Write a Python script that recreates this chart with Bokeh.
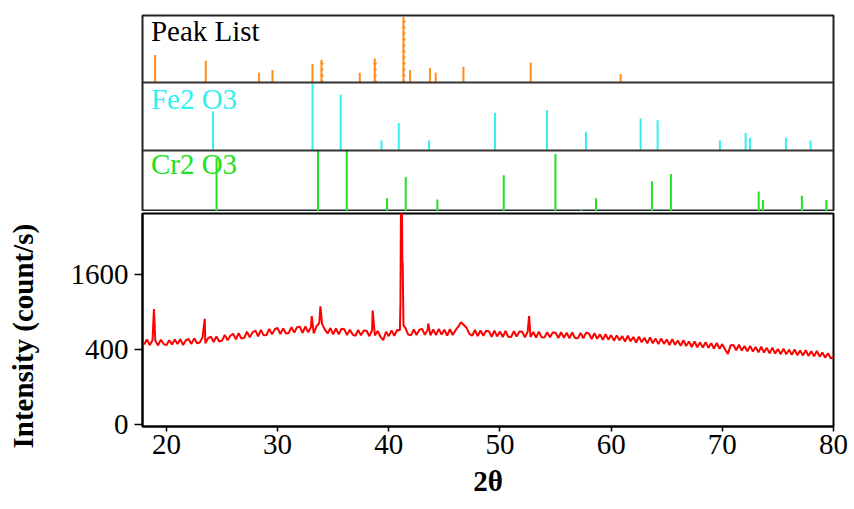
import numpy as np
from bokeh.plotting import figure
from bokeh.layouts import column
from bokeh.models import Range1d, Label, FixedTicker, Span, Title
from bokeh.embed import file_html
from bokeh.resources import INLINE

# ---------------- data ----------------
two_theta = [
    18.0, 18.25, 18.5, 18.75, 19.0, 19.25, 19.5, 19.75,
    20.0, 20.25, 20.5, 20.75, 21.0, 21.25, 21.5, 21.75,
    22.0, 22.25, 22.5, 22.75, 23.0, 23.25, 23.5, 23.75,
    24.0, 24.25, 24.5, 24.75, 25.0, 25.25, 25.5, 25.75,
    26.0, 26.25, 26.5, 26.75, 27.0, 27.25, 27.5, 27.75,
    28.0, 28.25, 28.5, 28.75, 29.0, 29.25, 29.5, 29.75,
    30.0, 30.25, 30.5, 30.75, 31.0, 31.25, 31.5, 31.75,
    32.0, 32.25, 32.5, 32.75, 33.0, 33.25, 33.5, 33.75,
    34.0, 34.25, 34.5, 34.75, 35.0, 35.25, 35.5, 35.75,
    36.0, 36.25, 36.5, 36.75, 37.0, 37.25, 37.5, 37.75,
    38.0, 38.25, 38.5, 38.75, 39.0, 39.25, 39.5, 39.75,
    40.0, 40.25, 40.5, 40.75, 41.0, 41.25, 41.5, 41.75,
    42.0, 42.25, 42.5, 42.75, 43.0, 43.25, 43.5, 43.75,
    44.0, 44.25, 44.5, 44.75, 45.0, 45.25, 45.5, 45.75,
    46.0, 46.25, 46.5, 46.75, 47.0, 47.25, 47.5, 47.75,
    48.0, 48.25, 48.5, 48.75, 49.0, 49.25, 49.5, 49.75,
    50.0, 50.25, 50.5, 50.75, 51.0, 51.25, 51.5, 51.75,
    52.0, 52.25, 52.5, 52.75, 53.0, 53.25, 53.5, 53.75,
    54.0, 54.25, 54.5, 54.75, 55.0, 55.25, 55.5, 55.75,
    56.0, 56.25, 56.5, 56.75, 57.0, 57.25, 57.5, 57.75,
    58.0, 58.25, 58.5, 58.75, 59.0, 59.25, 59.5, 59.75,
    60.0, 60.25, 60.5, 60.75, 61.0, 61.25, 61.5, 61.75,
    62.0, 62.25, 62.5, 62.75, 63.0, 63.25, 63.5, 63.75,
    64.0, 64.25, 64.5, 64.75, 65.0, 65.25, 65.5, 65.75,
    66.0, 66.25, 66.5, 66.75, 67.0, 67.25, 67.5, 67.75,
    68.0, 68.25, 68.5, 68.75, 69.0, 69.25, 69.5, 69.75,
    70.0, 70.25, 70.5, 70.75, 71.0, 71.25, 71.5, 71.75,
    72.0, 72.25, 72.5, 72.75, 73.0, 73.25, 73.5, 73.75,
    74.0, 74.25, 74.5, 74.75, 75.0, 75.25, 75.5, 75.75,
    76.0, 76.25, 76.5, 76.75, 77.0, 77.25, 77.5, 77.75,
    78.0, 78.25, 78.5, 78.75, 79.0, 79.25, 79.5, 79.75,
    80.0,
]
counts = [
    455, 515, 448, 505, 500, 445, 512, 460,
    448, 505, 455, 515, 460, 518, 450, 505,
    520, 462, 528, 470, 478, 540, 470, 530,
    548, 485, 552, 490, 500, 570, 505, 560,
    585, 515, 592, 525, 535, 612, 540, 605,
    628, 552, 635, 565, 570, 650, 578, 645,
    662, 582, 658, 590, 595, 675, 600, 672,
    680, 598, 685, 605, 672, 590, 685, 735,
    720, 640, 590, 662, 578, 655, 580, 652,
    645, 568, 640, 575, 560, 635, 565, 630,
    625, 555, 632, 565, 622, 548, 505, 612,
    555, 628, 560, 635, 632, 1870, 660, 575,
    565, 642, 570, 640, 648, 572, 640, 565,
    642, 568, 650, 575, 638, 562, 645, 570,
    630, 680, 745, 705, 665, 585, 560, 635,
    555, 628, 560, 625, 620, 548, 625, 552,
    615, 545, 622, 548, 545, 618, 550, 615,
    612, 540, 615, 545, 608, 538, 612, 542,
    538, 605, 540, 602, 600, 532, 605, 535,
    598, 530, 602, 532, 528, 595, 530, 598,
    588, 520, 592, 522, 578, 510, 580, 512,
    568, 500, 565, 505, 555, 490, 560, 492,
    545, 478, 548, 480, 535, 468, 540, 470,
    525, 460, 528, 462, 515, 450, 518, 452,
    502, 440, 505, 438, 490, 428, 492, 425,
    480, 420, 482, 418, 470, 410, 472, 408,
    460, 400, 355, 448, 450, 392, 452, 390,
    438, 380, 440, 378, 428, 370, 430, 368,
    418, 360, 420, 358, 405, 352, 408, 350,
    398, 345, 400, 342, 390, 338, 392, 335,
    382, 330, 385, 328, 368, 318, 362, 312,
    325,
]
spike_theta = [18.88, 23.45, 33.07, 33.85, 38.55, 41.05, 41.10, 41.18, 41.22, 41.32, 43.55, 52.62]
spike_counts = [950, 795, 835, 995, 924, 1060, 3600, 3600, 1870, 700, 725, 835]

peak_list_theta = [18.98, 23.52, 28.29, 29.49, 33.07, 33.88, 37.31, 38.65, 41.22, 41.81,
                   43.60, 44.11, 46.59, 52.61, 60.67]
peak_list_height = [41.7, 33, 15, 19, 28, 34.5, 15, 36.5, 100, 19, 22, 15, 24, 30, 13]
peak_list_dashed_theta = [33.88, 38.65, 41.22]
peak_list_dashed_height = [34.5, 36.5, 100]

fe2o3_theta = [24.17, 33.07, 35.60, 39.25, 40.80, 43.51, 49.42, 54.07, 57.56, 62.46,
               63.98, 69.56, 71.86, 72.25, 75.47, 77.68]
fe2o3_height = [58, 100, 83, 15, 41, 15, 56, 60, 28, 47.5, 45, 15, 26, 19, 19, 15]

cr2o3_theta = [24.48, 33.57, 36.14, 39.75, 41.42, 44.26, 50.20, 54.83, 57.15, 58.46,
               63.47, 65.17, 73.03, 73.41, 76.90, 79.09]
cr2o3_height = [89, 100, 100, 22, 57, 20, 60, 95, 3, 22, 50, 62, 33, 19, 26, 19]

y_tick_counts = [0, 400, 1600]
x_ticks = [20, 30, 40, 50, 60, 70, 80]

# ---------------- styles ----------------
SERIF = "Liberation Serif"
ORANGE = "#FF8C1A"
CYAN = "#33F0F0"
GREEN = "#22E022"
RED = "#FF0000"

# ---------- stacked stick panels (one figure, three y ranges) ----------
# frame is 196 px tall; default y range is in frame pixels from the bottom
pt = figure(width=854, height=211, x_range=Range1d(17.85, 79.73),
            y_range=Range1d(0, 196), x_axis_type=None, y_axis_type=None,
            output_backend="svg", toolbar_location=None,
            min_border_left=142, min_border_right=21, min_border_top=15, min_border_bottom=0)
pt.grid.visible = False
pt.outline_line_color = "#222222"
pt.outline_line_width = 2
pt.extra_y_ranges = {
    "peak": Range1d(-129 / 0.657, (196 - 129) / 0.657),
    "fe": Range1d(-61 / 0.673, (196 - 61) / 0.673),
    "cr": Range1d(0, 196 / 0.604),
}

pt.segment(x0=peak_list_theta, y0=[0] * len(peak_list_theta),
           x1=peak_list_theta, y1=peak_list_height, line_color=ORANGE, line_width=2,
           y_range_name="peak")
pt.segment(x0=[t + 0.04 for t in peak_list_dashed_theta], y0=[0] * len(peak_list_dashed_theta),
           x1=[t + 0.04 for t in peak_list_dashed_theta], y1=peak_list_dashed_height,
           line_color=ORANGE, line_width=3, line_dash="2 4", y_range_name="peak")
pt.segment(x0=fe2o3_theta, y0=[0] * len(fe2o3_theta), x1=fe2o3_theta, y1=fe2o3_height,
           line_color=CYAN, line_width=2, y_range_name="fe")
pt.segment(x0=cr2o3_theta, y0=[0] * len(cr2o3_theta), x1=cr2o3_theta, y1=cr2o3_height,
           line_color=GREEN, line_width=2, y_range_name="cr")

pt.add_layout(Span(location=129, dimension="width", line_color="#333333", line_width=2))
pt.add_layout(Span(location=61, dimension="width", line_color="#333333", line_width=2))

pt.add_layout(Label(x=18.6, y=180.2, text="Peak List", text_font=SERIF,
                    text_font_size="29px", text_color="black", text_baseline="alphabetic"))
pt.add_layout(Label(x=18.6, y=112.2, text="Fe2 O3", text_font=SERIF,
                    text_font_size="29px", text_color=CYAN, text_baseline="alphabetic"))
pt.add_layout(Label(x=18.6, y=47.1, text="Cr2 O3", text_font=SERIF,
                    text_font_size="29px", text_color=GREEN, text_baseline="alphabetic"))

# ---------- main diffractogram (square-root intensity scale) ----------
all_theta = np.array(two_theta + spike_theta, dtype=float)
all_counts = np.array(counts + spike_counts, dtype=float)
order = np.argsort(all_theta, kind="stable")
xs = all_theta[order]
ys = np.sqrt(all_counts[order])

p4 = figure(width=854, height=298, x_range=Range1d(17.85, 80.0),
            y_range=Range1d(-0.53, 56.27), output_backend="svg", toolbar_location=None,
            min_border_left=142, min_border_right=18, min_border_top=2, min_border_bottom=83)
p4.grid.visible = False
p4.outline_line_color = "black"
p4.outline_line_width = 2
p4.line(xs, ys, line_color=RED, line_width=2)

p4.xaxis.ticker = FixedTicker(ticks=x_ticks)
ytick_pos = [float(np.sqrt(v)) for v in y_tick_counts]
p4.yaxis.ticker = FixedTicker(ticks=ytick_pos)
p4.yaxis.major_label_overrides = {int(round(pos)): str(v) for pos, v in zip(ytick_pos, y_tick_counts)}

for ax in (p4.xaxis[0], p4.yaxis[0]):
    ax.axis_line_width = 2
    ax.axis_line_color = "black"
    ax.major_tick_line_color = "black"
    ax.major_tick_line_width = 1.5
    ax.major_tick_in = 0
    ax.minor_tick_line_color = None
    ax.major_label_text_font = SERIF
    ax.major_label_text_font_size = "29px"
    ax.major_label_text_color = "black"
    ax.axis_label_text_font = SERIF
    ax.axis_label_text_font_style = "bold"
    ax.axis_label_text_font_size = "29px"
    ax.axis_label_text_color = "black"

p4.xaxis.major_tick_out = 5
p4.xaxis.major_label_standoff = 3
p4.xaxis.axis_label = "2θ"
p4.xaxis.axis_label_standoff = 8
p4.yaxis.major_tick_out = 8
p4.yaxis.major_label_standoff = 6

# vertical axis title: a thin spacer panel, then the title, both on the left side
p4.add_layout(Title(text=" ", text_font_size="1px", standoff=26), "left")
p4.add_layout(Title(text="Intensity (count/s)", align="left", offset=-22, standoff=0,
                    vertical_align="bottom", text_font=SERIF, text_font_style="bold",
                    text_font_size="29px", text_color="black"), "left")

layout = column(pt, p4, spacing=0)
open("out.html", "w").write(file_html(layout, INLINE))
